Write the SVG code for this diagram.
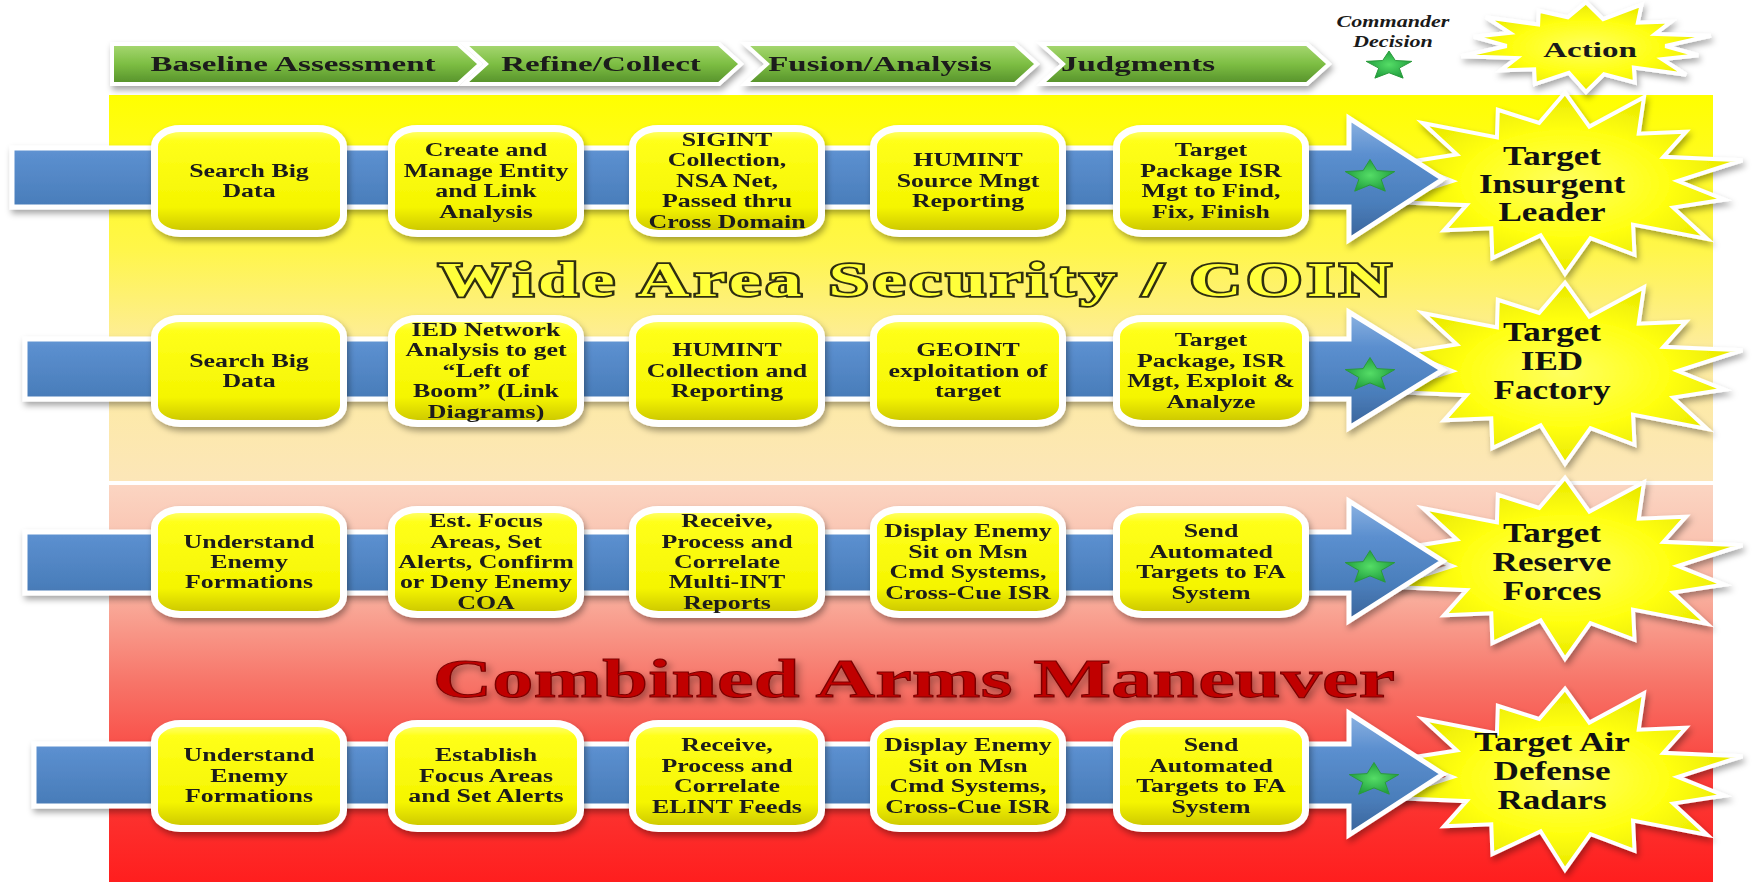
<svg xmlns="http://www.w3.org/2000/svg" width="1759" height="882" viewBox="0 0 1759 882">
<defs>
<style>
.bt{font-family:"Liberation Serif","Times New Roman",serif;font-weight:bold;font-size:18.5px;fill:#1a1a1a;text-anchor:middle}
.ct{font-family:"Liberation Serif","Times New Roman",serif;font-weight:bold;font-size:22px;fill:#1a1a1a;text-anchor:middle}
.st{font-family:"Liberation Serif","Times New Roman",serif;font-weight:bold;font-size:27px;fill:#111;text-anchor:middle}
.cd{font-family:"Liberation Serif","Times New Roman",serif;font-weight:bold;font-style:italic;font-size:17px;fill:#1a1a1a;text-anchor:middle}
.box{fill:url(#gBox);stroke:#fff;stroke-width:7}
.chev{fill:url(#gGreen);stroke:#fff;stroke-width:4;stroke-linejoin:miter}
.arr{fill:url(#gBlue);stroke:#fff;stroke-width:5;stroke-linejoin:miter}
.burst{fill:url(#gBurst);stroke:#fff;stroke-width:4}
.star{fill:url(#gStar);stroke:#2a9a3a;stroke-width:1}
.t1{font-family:"Liberation Serif","Times New Roman",serif;font-weight:bold;font-size:48px;letter-spacing:3px;fill:#FFFF3A;stroke:#2e2e10;stroke-width:3.5;paint-order:stroke;text-anchor:middle}
.t2{font-family:"Liberation Serif","Times New Roman",serif;font-weight:bold;font-size:55px;fill:#C00000;stroke:#7a0000;stroke-width:1;text-anchor:middle}
</style>
<linearGradient id="gYel" x1="0" y1="0" x2="0" y2="1">
<stop offset="0" stop-color="#FFFF00"/><stop offset="0.4" stop-color="#FFF64A"/><stop offset="0.65" stop-color="#FDEC9C"/><stop offset="1" stop-color="#FCE6B8"/>
</linearGradient>
<linearGradient id="gRed" x1="0" y1="0" x2="0" y2="1">
<stop offset="0" stop-color="#FBD5C2"/><stop offset="0.25" stop-color="#F9B6A4"/><stop offset="0.5" stop-color="#F77468"/><stop offset="0.75" stop-color="#FB3A36"/><stop offset="1" stop-color="#FF1E1E"/>
</linearGradient>
<linearGradient id="gBox" x1="0" y1="0" x2="0" y2="1">
<stop offset="0" stop-color="#FFFF80"/><stop offset="0.12" stop-color="#FFFF1A"/><stop offset="0.75" stop-color="#F5F500"/><stop offset="1" stop-color="#C9C400"/>
</linearGradient>
<linearGradient id="gBlue" x1="0" y1="0" x2="0" y2="1">
<stop offset="0" stop-color="#8DB3E2"/><stop offset="0.3" stop-color="#5B8FCF"/><stop offset="0.7" stop-color="#4A7EBB"/><stop offset="1" stop-color="#3A6399"/>
</linearGradient>
<linearGradient id="gGreen" x1="0" y1="0" x2="0" y2="1">
<stop offset="0" stop-color="#A8D873"/><stop offset="0.5" stop-color="#7DBE43"/><stop offset="1" stop-color="#55902A"/>
</linearGradient>
<radialGradient id="gBurst" cx="0.5" cy="0.5" r="0.5">
<stop offset="0" stop-color="#FFFF60"/><stop offset="0.6" stop-color="#FFFF10"/><stop offset="1" stop-color="#E8E800"/>
</radialGradient>
<radialGradient id="gStar" cx="0.5" cy="0.5" r="0.5">
<stop offset="0" stop-color="#55DD66"/><stop offset="1" stop-color="#22A040"/>
</radialGradient>
<filter id="sh" x="-10%" y="-20%" width="130%" height="150%">
<feDropShadow dx="2" dy="4" stdDeviation="3" flood-color="#000" flood-opacity="0.35"/>
</filter>
<path id="burstShape" vector-effect="non-scaling-stroke" d="M0,-0.95 L0.134,-0.585 L0.434,-0.901 L0.405,-0.508 L0.665,-0.53 L0.541,-0.26 L0.975,-0.223 L0.62,0 L0.877,0.2 L0.595,0.286 L0.782,0.624 L0.374,0.469 L0.382,0.793 L0.14,0.614 L0,1 L-0.134,0.585 L-0.399,0.829 L-0.405,0.508 L-0.665,0.53 L-0.541,0.26 L-0.975,0.223 L-0.62,0 L-0.877,-0.2 L-0.595,-0.286 L-0.782,-0.624 L-0.374,-0.469 L-0.369,-0.766 L-0.142,-0.624 Z"/>
<path id="starShape" vector-effect="non-scaling-stroke" d="M0,-1 L0.2645,-0.364 L0.951,-0.309 L0.428,0.139 L0.588,0.809 L0,0.45 L-0.588,0.809 L-0.428,0.139 L-0.951,-0.309 L-0.2645,-0.364 Z"/>
</defs>

<rect width="1759" height="882" fill="#fff"/>
<g id="bands">
<rect x="109" y="95" width="1604" height="386" fill="url(#gYel)"/>
<rect x="109" y="485" width="1604" height="397" fill="url(#gRed)"/>
</g>

<g id="titles">
<text class="t1" transform="translate(917,0) scale(1.5,1)" x="0" y="296">Wide Area Security / COIN</text>
<text class="t2" transform="translate(914,0) scale(1.5,1)" x="0" y="697" filter="url(#sh)">Combined Arms Maneuver</text>
</g>

<g id="phases" filter="url(#sh)">
<g id="ph1"><polygon class="chev" points="112,44 458,44 480,64 458,84 112,84"/><text class="ct" transform="translate(293,0) scale(1.5,1)" x="0" y="71">Baseline Assessment</text></g>
<g id="ph2"><polygon class="chev" points="464,44 719,44 741,64 719,84 464,84 486,64"/><text class="ct" transform="translate(601,0) scale(1.5,1)" x="0" y="71">Refine/Collect</text></g>
<g id="ph3"><polygon class="chev" points="745,44 1015,44 1037,64 1015,84 745,84 767,64"/><text class="ct" transform="translate(880,0) scale(1.5,1)" x="0" y="71">Fusion/Analysis</text></g>
<g id="ph4"><polygon class="chev" points="1041,44 1307,44 1329,64 1307,84 1041,84 1063,64"/><text class="ct" transform="translate(1138,0) scale(1.5,1)" x="0" y="71">Judgments</text></g>
</g>

<g id="commander">
<text class="cd" transform="translate(1393,0) scale(1.3,1)"><tspan x="0" y="27">Commander</tspan><tspan x="0" y="47">Decision</tspan></text>
<use href="#starShape" class="star" transform="translate(1389,66) scale(24,15)"/>
</g>

<g id="action">
<g filter="url(#sh)"><use href="#burstShape" class="burst" transform="translate(1586,46) scale(128,46)"/></g>
<text class="ct" transform="translate(1590,0) scale(1.5,1)" x="0" y="57">Action</text>
</g>

<g id="targets">
<g id="tgt1"><g filter="url(#sh)"><use href="#burstShape" class="burst" transform="translate(1565,181) scale(182,93)"/></g>
<text class="st" transform="translate(1552,0) scale(1.3,1)"><tspan x="0" y="165">Target</tspan><tspan x="0" y="193">Insurgent</tspan><tspan x="0" y="221">Leader</tspan></text></g>
<g id="tgt2"><g filter="url(#sh)"><use href="#burstShape" class="burst" transform="translate(1565,371) scale(182,93)"/></g>
<text class="st" transform="translate(1552,0) scale(1.3,1)"><tspan x="0" y="341">Target</tspan><tspan x="0" y="370">IED</tspan><tspan x="0" y="399">Factory</tspan></text></g>
<g id="tgt3"><g filter="url(#sh)"><use href="#burstShape" class="burst" transform="translate(1565,566) scale(182,93)"/></g>
<text class="st" transform="translate(1552,0) scale(1.3,1)"><tspan x="0" y="542">Target</tspan><tspan x="0" y="571">Reserve</tspan><tspan x="0" y="600">Forces</tspan></text></g>
<g id="tgt4"><g filter="url(#sh)"><use href="#burstShape" class="burst" transform="translate(1565,777) scale(182,93)"/></g>
<text class="st" transform="translate(1552,0) scale(1.3,1)"><tspan x="0" y="751">Target Air</tspan><tspan x="0" y="780">Defense</tspan><tspan x="0" y="809">Radars</tspan></text></g>
</g>

<g id="connectors" filter="url(#sh)">
<path class="arr" d="M12,148 L1349,148 L1349,118 L1443,179 L1349,240 L1349,207 L12,207 Z"/>
<path class="arr" d="M25,339 L1349,339 L1349,312 L1443,370 L1349,428 L1349,399 L25,399 Z"/>
<path class="arr" d="M25,532 L1349,532 L1349,501 L1443,561 L1349,621 L1349,593 L25,593 Z"/>
<path class="arr" d="M34,744 L1349,744 L1349,713 L1443,774 L1349,835 L1349,806 L34,806 Z"/>
</g>

<g id="decisions">
<use href="#starShape" class="star" transform="translate(1370,177) scale(26,17.5)"/>
<use href="#starShape" class="star" transform="translate(1370,375) scale(26,17.5)"/>
<use href="#starShape" class="star" transform="translate(1370,568) scale(26,17.5)"/>
<use href="#starShape" class="star" transform="translate(1374,780) scale(26,17.5)"/>
</g>

<g id="row1" filter="url(#sh)">
<g id="r1b1"><rect class="box" x="154.5" y="128.5" width="189" height="105" rx="26" ry="18"/>
<text class="bt" transform="translate(249,0) scale(1.4,1)"><tspan x="0" y="177">Search Big</tspan><tspan x="0" y="197.5">Data</tspan></text></g>
<g id="r1b2"><rect class="box" x="391.5" y="128.5" width="189" height="105" rx="26" ry="18"/>
<text class="bt" transform="translate(486,0) scale(1.4,1)"><tspan x="0" y="156.5">Create and</tspan><tspan x="0" y="177">Manage Entity</tspan><tspan x="0" y="197.5">and Link</tspan><tspan x="0" y="218">Analysis</tspan></text></g>
<g id="r1b3"><rect class="box" x="632.5" y="128.5" width="189" height="105" rx="26" ry="18"/>
<text class="bt" transform="translate(727,0) scale(1.4,1)"><tspan x="0" y="146">SIGINT</tspan><tspan x="0" y="166.5">Collection,</tspan><tspan x="0" y="187">NSA Net,</tspan><tspan x="0" y="207.5">Passed thru</tspan><tspan x="0" y="228">Cross Domain</tspan></text></g>
<g id="r1b4"><rect class="box" x="873.5" y="128.5" width="189" height="105" rx="26" ry="18"/>
<text class="bt" transform="translate(968,0) scale(1.4,1)"><tspan x="0" y="166.5">HUMINT</tspan><tspan x="0" y="187">Source Mngt</tspan><tspan x="0" y="207.5">Reporting</tspan></text></g>
<g id="r1b5"><rect class="box" x="1116.5" y="128.5" width="189" height="105" rx="26" ry="18"/>
<text class="bt" transform="translate(1211,0) scale(1.4,1)"><tspan x="0" y="156.5">Target</tspan><tspan x="0" y="177">Package ISR</tspan><tspan x="0" y="197.5">Mgt to Find,</tspan><tspan x="0" y="218">Fix, Finish</tspan></text></g>
</g>

<g id="row2" filter="url(#sh)">
<g id="r2b1"><rect class="box" x="154.5" y="318.5" width="189" height="105" rx="26" ry="18"/>
<text class="bt" transform="translate(249,0) scale(1.4,1)"><tspan x="0" y="367">Search Big</tspan><tspan x="0" y="387.5">Data</tspan></text></g>
<g id="r2b2"><rect class="box" x="391.5" y="318.5" width="189" height="105" rx="26" ry="18"/>
<text class="bt" transform="translate(486,0) scale(1.4,1)"><tspan x="0" y="336">IED Network</tspan><tspan x="0" y="356.5">Analysis to get</tspan><tspan x="0" y="377">“Left of</tspan><tspan x="0" y="397.5">Boom” (Link</tspan><tspan x="0" y="418">Diagrams)</tspan></text></g>
<g id="r2b3"><rect class="box" x="632.5" y="318.5" width="189" height="105" rx="26" ry="18"/>
<text class="bt" transform="translate(727,0) scale(1.4,1)"><tspan x="0" y="356.5">HUMINT</tspan><tspan x="0" y="377">Collection and</tspan><tspan x="0" y="397.5">Reporting</tspan></text></g>
<g id="r2b4"><rect class="box" x="873.5" y="318.5" width="189" height="105" rx="26" ry="18"/>
<text class="bt" transform="translate(968,0) scale(1.4,1)"><tspan x="0" y="356.5">GEOINT</tspan><tspan x="0" y="377">exploitation of</tspan><tspan x="0" y="397.5">target</tspan></text></g>
<g id="r2b5"><rect class="box" x="1116.5" y="318.5" width="189" height="105" rx="26" ry="18"/>
<text class="bt" transform="translate(1211,0) scale(1.4,1)"><tspan x="0" y="346.5">Target</tspan><tspan x="0" y="367">Package, ISR</tspan><tspan x="0" y="387.5">Mgt, Exploit &amp;</tspan><tspan x="0" y="408">Analyze</tspan></text></g>
</g>

<g id="row3" filter="url(#sh)">
<g id="r3b1"><rect class="box" x="154.5" y="509.5" width="189" height="105" rx="26" ry="18"/>
<text class="bt" transform="translate(249,0) scale(1.4,1)"><tspan x="0" y="547.5">Understand</tspan><tspan x="0" y="568">Enemy</tspan><tspan x="0" y="588.5">Formations</tspan></text></g>
<g id="r3b2"><rect class="box" x="391.5" y="509.5" width="189" height="105" rx="26" ry="18"/>
<text class="bt" transform="translate(486,0) scale(1.4,1)"><tspan x="0" y="527">Est. Focus</tspan><tspan x="0" y="547.5">Areas, Set</tspan><tspan x="0" y="568">Alerts, Confirm</tspan><tspan x="0" y="588.5">or Deny Enemy</tspan><tspan x="0" y="609">COA</tspan></text></g>
<g id="r3b3"><rect class="box" x="632.5" y="509.5" width="189" height="105" rx="26" ry="18"/>
<text class="bt" transform="translate(727,0) scale(1.4,1)"><tspan x="0" y="527">Receive,</tspan><tspan x="0" y="547.5">Process and</tspan><tspan x="0" y="568">Correlate</tspan><tspan x="0" y="588.5">Multi-INT</tspan><tspan x="0" y="609">Reports</tspan></text></g>
<g id="r3b4"><rect class="box" x="873.5" y="509.5" width="189" height="105" rx="26" ry="18"/>
<text class="bt" transform="translate(968,0) scale(1.4,1)"><tspan x="0" y="537.5">Display Enemy</tspan><tspan x="0" y="558">Sit on Msn</tspan><tspan x="0" y="578.5">Cmd Systems,</tspan><tspan x="0" y="599">Cross-Cue ISR</tspan></text></g>
<g id="r3b5"><rect class="box" x="1116.5" y="509.5" width="189" height="105" rx="26" ry="18"/>
<text class="bt" transform="translate(1211,0) scale(1.4,1)"><tspan x="0" y="537.5">Send</tspan><tspan x="0" y="558">Automated</tspan><tspan x="0" y="578.5">Targets to FA</tspan><tspan x="0" y="599">System</tspan></text></g>
</g>

<g id="row4" filter="url(#sh)">
<g id="r4b1"><rect class="box" x="154.5" y="723.5" width="189" height="105" rx="26" ry="18"/>
<text class="bt" transform="translate(249,0) scale(1.4,1)"><tspan x="0" y="761.5">Understand</tspan><tspan x="0" y="782">Enemy</tspan><tspan x="0" y="802.5">Formations</tspan></text></g>
<g id="r4b2"><rect class="box" x="391.5" y="723.5" width="189" height="105" rx="26" ry="18"/>
<text class="bt" transform="translate(486,0) scale(1.4,1)"><tspan x="0" y="761.5">Establish</tspan><tspan x="0" y="782">Focus Areas</tspan><tspan x="0" y="802.5">and Set Alerts</tspan></text></g>
<g id="r4b3"><rect class="box" x="632.5" y="723.5" width="189" height="105" rx="26" ry="18"/>
<text class="bt" transform="translate(727,0) scale(1.4,1)"><tspan x="0" y="751.5">Receive,</tspan><tspan x="0" y="772">Process and</tspan><tspan x="0" y="792.5">Correlate</tspan><tspan x="0" y="813">ELINT Feeds</tspan></text></g>
<g id="r4b4"><rect class="box" x="873.5" y="723.5" width="189" height="105" rx="26" ry="18"/>
<text class="bt" transform="translate(968,0) scale(1.4,1)"><tspan x="0" y="751.5">Display Enemy</tspan><tspan x="0" y="772">Sit on Msn</tspan><tspan x="0" y="792.5">Cmd Systems,</tspan><tspan x="0" y="813">Cross-Cue ISR</tspan></text></g>
<g id="r4b5"><rect class="box" x="1116.5" y="723.5" width="189" height="105" rx="26" ry="18"/>
<text class="bt" transform="translate(1211,0) scale(1.4,1)"><tspan x="0" y="751.5">Send</tspan><tspan x="0" y="772">Automated</tspan><tspan x="0" y="792.5">Targets to FA</tspan><tspan x="0" y="813">System</tspan></text></g>
</g>
</svg>
